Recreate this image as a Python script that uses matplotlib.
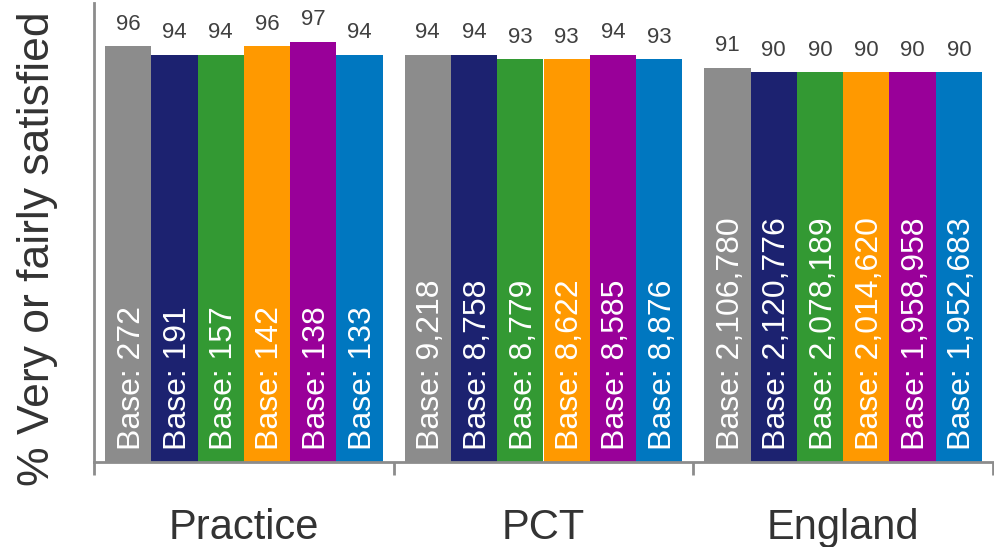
import matplotlib.pyplot as plt
import numpy as np

plt.rcParams['font.family'] = ['Liberation Sans', 'DejaVu Sans']

groups = ['Practice', 'PCT', 'England']
colors = ['#8c8c8c', '#1c2270', '#339933', '#ff9900', '#990099', '#0077c0']

values = [
    [96, 94, 94, 96, 97, 94],
    [94, 94, 93, 93, 94, 93],
    [91, 90, 90, 90, 90, 90],
]
bases = [
    ['272', '191', '157', '142', '138', '133'],
    ['9,218', '8,758', '8,779', '8,622', '8,585', '8,876'],
    ['2,106,780', '2,120,776', '2,078,189', '2,014,620', '1,958,958', '1,952,683'],
]

fig = plt.figure(figsize=(9.94, 5.47), dpi=100)
ax = fig.add_axes([94 / 994, 85 / 547, 899 / 994, 459 / 547])

width = 0.1545
n = len(colors)
for g, grp in enumerate(groups):
    for i in range(n):
        x = g + (i - (n - 1) / 2) * width
        ax.bar(x, values[g][i], width=width, color=colors[i], linewidth=0)
        ax.annotate(str(values[g][i]), (x, values[g][i]), xytext=(0, 12),
                    textcoords='offset points', ha='center', va='baseline',
                    fontsize=16, color='#404040')
        # centre the glyphs on the bar, ignoring descent
        ax.text(x, 2.8, 'Base: ' + bases[g][i], rotation=90,
                rotation_mode='anchor', ha='left', va='center_baseline',
                fontsize=23, color='white')

ax.set_xlim(-0.5, 2.5)
ax.set_ylim(0, 106)
ax.set_yticks([])
ax.set_xticks([0, 1, 2])
ax.set_xticklabels(groups, fontsize=30, color='#333333')
ax.tick_params(axis='x', which='major', length=0, pad=33)
ax.set_xticks([-0.5, 0.5, 1.5, 2.5], minor=True)
ax.tick_params(axis='x', which='minor', length=9, width=2, color='#8c8c8c')

for s in ['top', 'right']:
    ax.spines[s].set_visible(False)
for s in ['left', 'bottom']:
    ax.spines[s].set_color('#8c8c8c')
    ax.spines[s].set_linewidth(2)

fig.text(38 / 994, 1 - 249 / 547, '% Very or fairly satisfied', rotation=90,
         ha='center', va='center', fontsize=32, color='#333333')

plt.savefig('out.png', dpi=100)
